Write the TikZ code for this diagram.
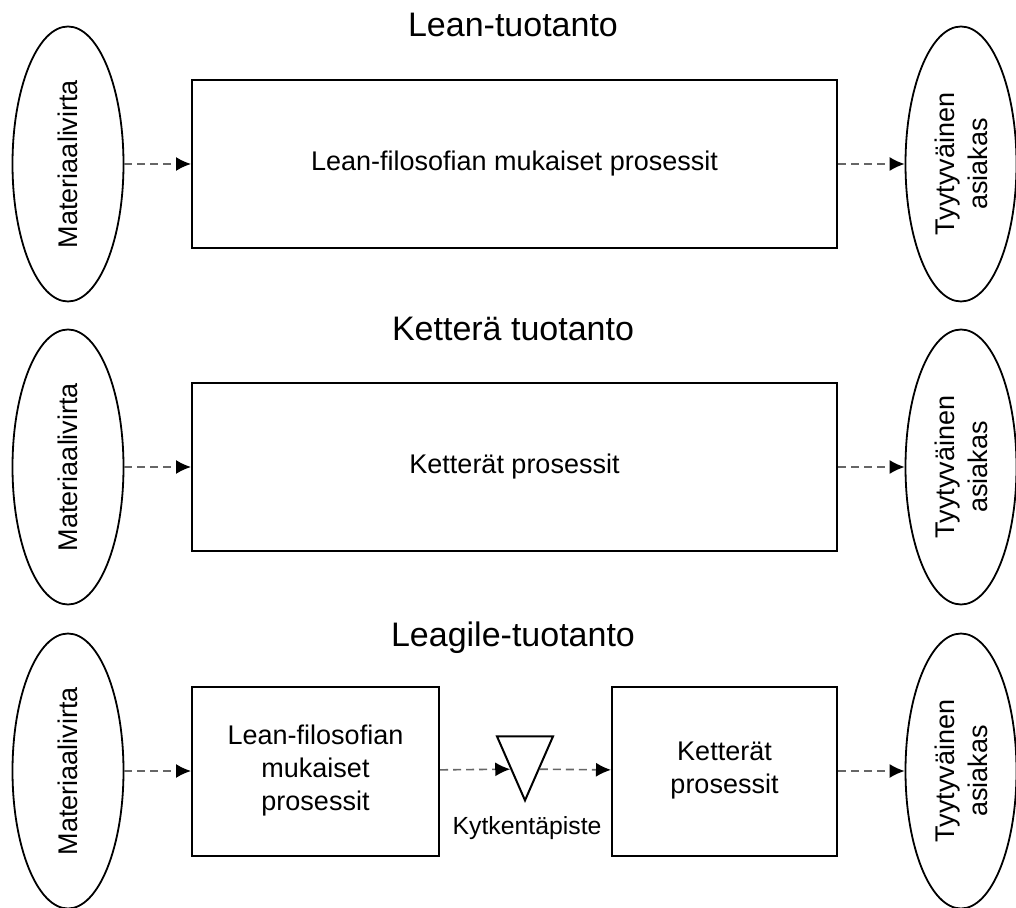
\documentclass[tikz,border=0pt]{standalone}
\usepackage{fontspec}
\setmainfont{Liberation Sans}
\usetikzlibrary{shapes.geometric,arrows.meta}

\begin{document}
\begin{tikzpicture}[x=0.5pt,y=-0.5pt,
        otsikko/.style={font=\fontsize{17}{20}\selectfont, anchor=base},
        laatikko/.style={draw, line width=1pt, align=center, font=\fontsize{13.5}{16.5}\selectfont},
        soikio/.style={ellipse, draw, line width=0.9pt, rotate=90, minimum width=137.5pt, minimum height=55.5pt,
            inner sep=0pt, align=center, font=\fontsize{13.5}{16.5}\selectfont},
        virta/.style={line width=0.8pt, black!60, dash pattern=on 4pt off 2.5pt,
            -{Latex[length=7.5pt,width=7pt,color=black]}}]
            \useasboundingbox (0,0) rectangle (1016,908);
            \node[otsikko] (t1) at (513,37) {Lean-tuotanto};
            \node[otsikko] (t2) at (513,341) {Ketterä tuotanto};
            \node[otsikko] (t3) at (513,646) {Leagile-tuotanto};

            \node[soikio] (m1) at (68,164) {Materiaalivirta};
            \node[laatikko, minimum width=322.5pt, minimum height=84pt] (p1) at (514.5,164) {Lean-filosofian mukaiset prosessit};
            \node[soikio] (a1) at (961,164) {Tyytyväinen\\asiakas};

            \node[soikio] (m2) at (68,467) {Materiaalivirta};
            \node[laatikko, minimum width=322.5pt, minimum height=84pt] (p2) at (514.5,467) {Ketterät prosessit};
            \node[soikio] (a2) at (961,467) {Tyytyväinen\\asiakas};

            \node[soikio] (m3) at (68,771) {Materiaalivirta};
            \node[laatikko, minimum width=123.5pt, minimum height=84.5pt] (lb) at (315.5,771) {Lean-filosofian\\mukaiset\\prosessit};
            \node[isosceles triangle, draw, line width=1pt, shape border rotate=270, isosceles triangle stretches,
                minimum width=28pt, minimum height=32pt, inner sep=0pt, anchor=apex] (kp) at (525,803) {};
            \node[font=\fontsize{12.4}{15}\selectfont] (kpl) at (527,828) {Kytkentäpiste};
            \node[laatikko, minimum width=112.5pt, minimum height=84.5pt] (rb) at (724.5,771) {Ketterät\\prosessit};
            \node[soikio] (a3) at (961,771) {Tyytyväinen\\asiakas};

            \draw[virta] (m1) -- (p1);
            \draw[virta] (p1) -- (a1);
            \draw[virta] (m2) -- (p2);
            \draw[virta] (p2) -- (a2);
            \draw[virta] (m3) -- (lb);
            \draw[virta] (lb) -- (kp.right side);
            \draw[virta] (kp.left side) -- (rb);
            \draw[virta] (rb) -- (a3);
        \end{tikzpicture}
\end{document}
